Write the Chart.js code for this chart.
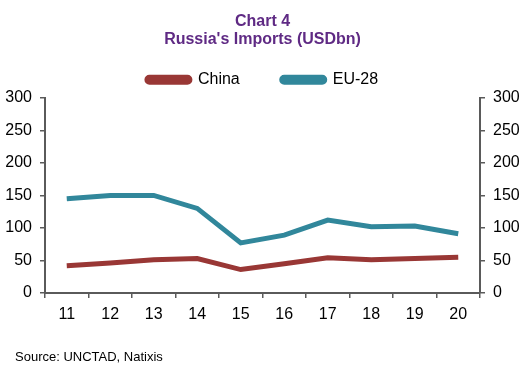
<!DOCTYPE html>
<html>
<head>
<meta charset="UTF-8">
<title>Russia's Imports</title>
<script src="https://cdn.jsdelivr.net/npm/chart.js"></script>
<style>
  body { margin: 0; background: #fff; }
  #wrap { width: 525px; height: 375px; position: relative; }
</style>
</head>
<body>
<div id="wrap"><canvas id="chart" width="525" height="375"></canvas></div>
<script>
// years (20xx)
const years = ['11', '12', '13', '14', '15', '16', '17', '18', '19', '20'];
const china = [42, 46, 51, 53, 36, 45, 54, 51, 53, 55];
const eu28 = [145, 150, 150, 130, 77, 89, 112, 102, 103, 91];

const axisColor = '#5a5a5a';
const tickFont = { family: 'Arial, "Liberation Sans"', size: 16 };

// source note at the bottom
const sourceNote = {
    id: 'sourceNote',
    afterDraw(chart) {
        const ctx = chart.ctx;
        ctx.save();
        ctx.fillStyle = '#000';
        ctx.font = '13px Arial, "Liberation Sans"';
        ctx.textBaseline = 'middle';
        ctx.fillText('Source: UNCTAD, Natixis', 15, 357);
        ctx.restore();
    }
};

new Chart(document.getElementById('chart'), {
    type: 'line',
    data: {
        labels: years,
        datasets: [{
            label: 'China',
            data: china,
            borderColor: '#993735',
            backgroundColor: '#993735',
            borderWidth: 5,
            pointRadius: 0,
            tension: 0,
            yAxisID: 'y'
        }, {
            label: 'EU-28',
            data: eu28,
            borderColor: '#31879b',
            backgroundColor: '#31879b',
            borderWidth: 5,
            pointRadius: 0,
            tension: 0,
            yAxisID: 'y'
        }]
    },
    options: {
        responsive: false,
        animation: false,
        layout: { padding: { left: 0, right: 0, top: 0, bottom: 52 } },
        plugins: {
            title: {
                display: true,
                text: ['Chart 4', "Russia's Imports (USDbn)"],
                color: '#5f2a84',
                font: { family: 'Arial, "Liberation Sans"', size: 16, weight: 'bold', lineHeight: 1.15 },
                // negative bottom pulls the (wide-padded) legend up
                padding: { top: 12, bottom: -19 }
            },
            legend: {
                display: true,
                labels: {
                    color: '#000',
                    font: { family: 'Arial, "Liberation Sans"', size: 16 },
                    boxWidth: 43,
                    boxHeight: 5,
                    useBorderRadius: true,
                    borderRadius: 2.5,
                    padding: 42
                }
            },
            tooltip: { enabled: false }
        },
        scales: {
            x: {
                offset: true,
                grid: { offset: true, drawOnChartArea: false, drawTicks: true, tickLength: 5, color: axisColor, lineWidth: 1.5 },
                border: { display: true, color: axisColor, width: 2 },
                ticks: { color: '#000', font: tickFont, padding: 7, maxRotation: 0 },
                afterFit(scale) { scale.height = 30; }
            },
            y: {
                position: 'left',
                min: 0, max: 300,
                grid: { drawOnChartArea: false, drawTicks: true, tickLength: 5, color: axisColor, lineWidth: 1.5 },
                border: { display: true, color: axisColor, width: 2 },
                ticks: { stepSize: 50, color: '#000', font: tickFont, padding: 8 },
                afterFit(scale) { scale.width = 45; }
            },
            y2: {
                position: 'right',
                min: 0, max: 300,
                grid: { drawOnChartArea: false, drawTicks: true, tickLength: 5, color: axisColor, lineWidth: 1.5 },
                border: { display: true, color: axisColor, width: 2 },
                ticks: { stepSize: 50, color: '#000', font: tickFont, padding: 8 },
                afterFit(scale) { scale.width = 45; }
            }
        }
    },
    plugins: [sourceNote]
});
</script>
</body>
</html>
